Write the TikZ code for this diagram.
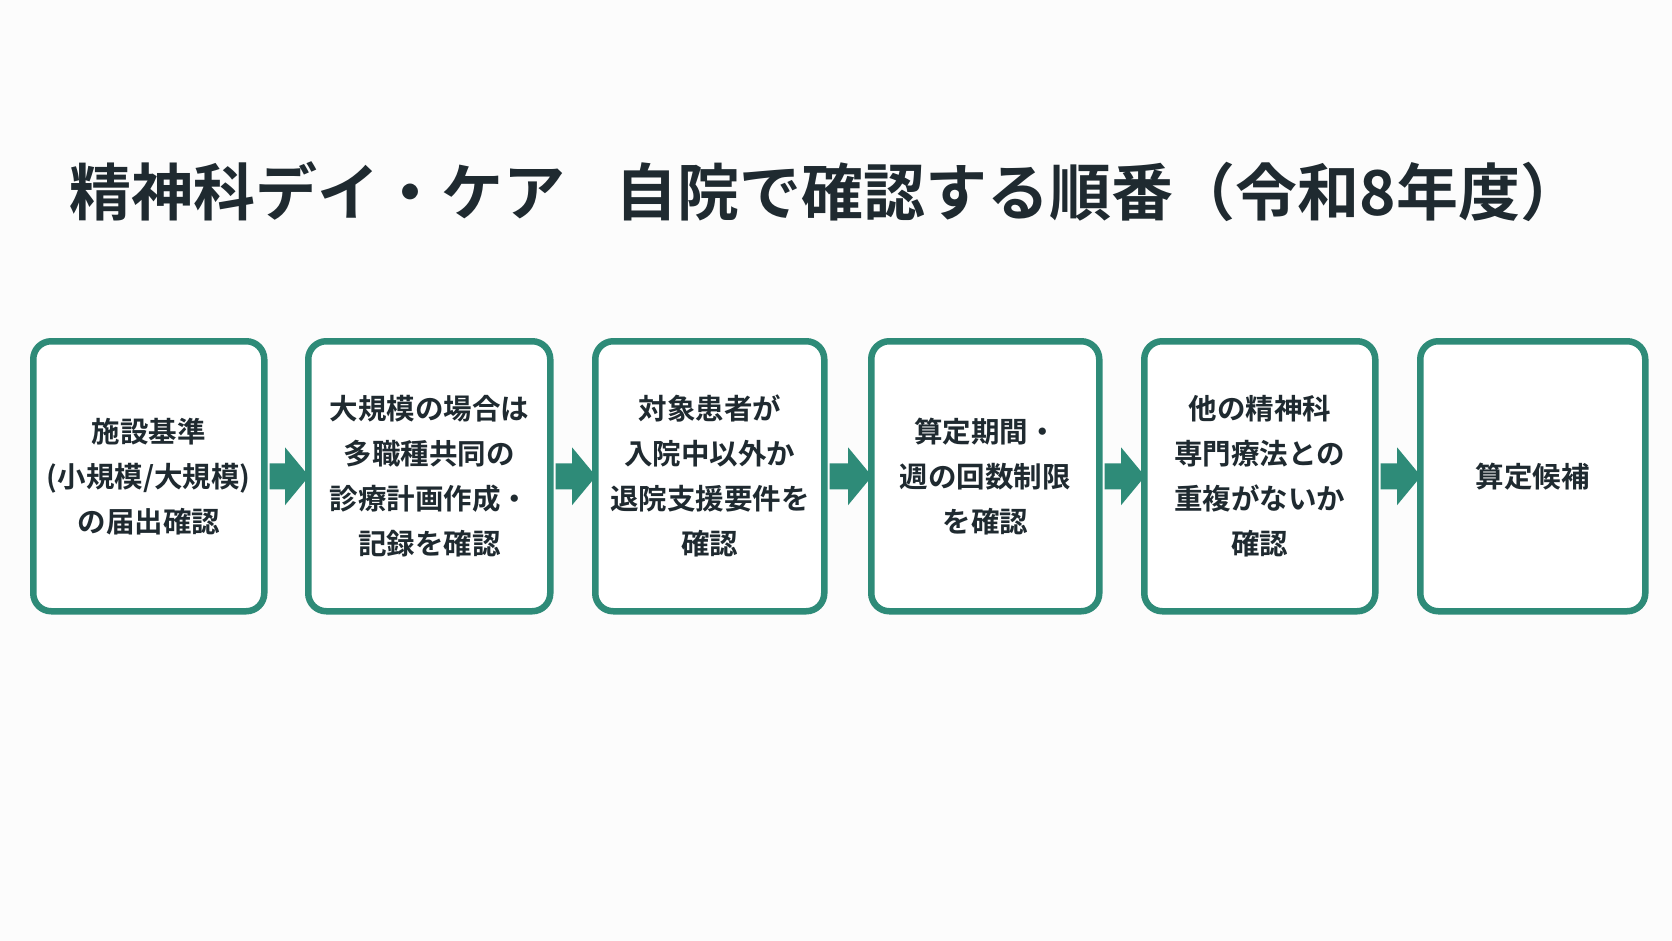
\documentclass[tikz,border=0pt]{standalone}
\usepackage{fontspec}
\setmainfont{Noto Sans CJK JP}[BoldFont={* Bold}]
\usetikzlibrary{calc}
\definecolor{teal1}{HTML}{2E8B78}
\definecolor{ink}{HTML}{1F2A30}
\tikzset{
 box/.style={draw=teal1,line width=6.5pt,rounded corners=18pt,fill=white,anchor=north west,align=center,
   font=\fontsize{28.5}{45}\selectfont\bfseries,text=ink},
 arr/.style={fill=teal1,draw=none}
}
\begin{document}
\begin{tikzpicture}[x=1pt,y=-1pt]
\useasboundingbox[fill=white!98!gray] (0,0) rectangle (1672,941);
\node[font=\fontsize{62}{64}\selectfont\bfseries,text=ink] (title) at (826,192) {精神科デイ・ケア\hspace{0.8em}自院で確認する順番（令和8年度）};
\node[box,minimum width=231pt,minimum height=270pt,text width=220pt] (b1) at (30,338) {施設基準\\(小規模/大規模)\\の届出確認};
\node[box,minimum width=242pt,minimum height=270pt,text width=230pt] (b2) at (305,338) {大規模の場合は\\多職種共同の\\診療計画作成・\\記録を確認};
\node[box,minimum width=229pt,minimum height=270pt,text width=220pt] (b3) at (592,338) {対象患者が\\入院中以外か\\退院支援要件を\\確認};
\node[box,minimum width=228pt,minimum height=270pt,text width=220pt] (b4) at (868,338) {算定期間・\\週の回数制限\\を確認};
\node[box,minimum width=231pt,minimum height=270pt,text width=220pt] (b5) at (1141,338) {他の精神科\\専門療法との\\重複がないか\\確認};
\node[box,minimum width=225pt,minimum height=270pt,text width=215pt] (b6) at (1417,338) {算定候補};
\foreach \a/\b in {b1/b2,b2/b3,b3/b4,b4/b5,b5/b6}{
  \fill[arr] ($(\a.east)+(2,-13)$) -- ($(\b.west)+(-20,-13)$) -- ($(\b.west)+(-20,-29)$)
     -- ($(\b.west)+(4,0)$) -- ($(\b.west)+(-20,29)$) -- ($(\b.west)+(-20,13)$) -- ($(\a.east)+(2,13)$) -- cycle;
}
\end{tikzpicture}
\end{document}
